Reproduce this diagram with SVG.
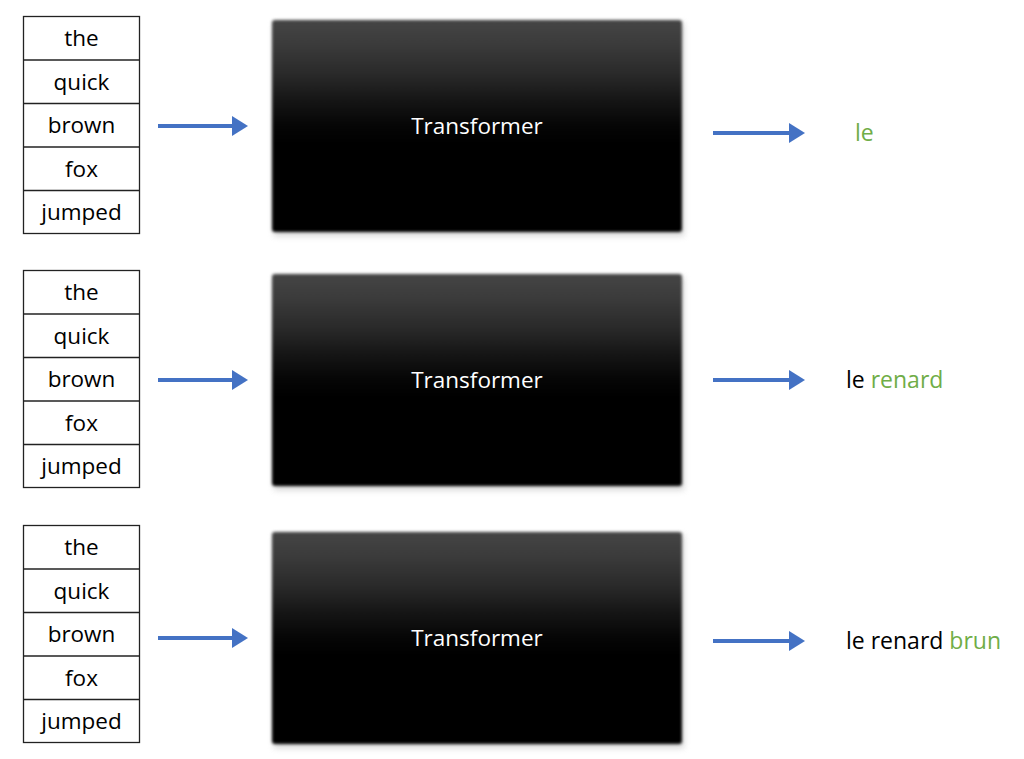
<svg xmlns="http://www.w3.org/2000/svg" width="1024" height="759" viewBox="0 0 1024 759">
<defs>
<linearGradient id="g" x1="0" y1="0" x2="0" y2="1">
<stop offset="0" stop-color="#454545"/>
<stop offset="0.12" stop-color="#3a3a3a"/>
<stop offset="0.25" stop-color="#2a2a2a"/>
<stop offset="0.38" stop-color="#151515"/>
<stop offset="0.5" stop-color="#050505"/>
<stop offset="0.58" stop-color="#000"/>
<stop offset="1" stop-color="#000"/>
</linearGradient>
<filter id="soft" x="-5%" y="-5%" width="110%" height="110%" color-interpolation-filters="sRGB">
<feGaussianBlur in="SourceGraphic" stdDeviation="1.6"/>
</filter>
<filter id="shadow" x="-5%" y="-5%" width="110%" height="110%" color-interpolation-filters="sRGB">
<feGaussianBlur stdDeviation="3"/>
</filter>
<marker id="ah" markerWidth="4" markerHeight="5" refX="0" refY="2.5" orient="auto" markerUnits="strokeWidth">
<path d="M0,0 L4,2.5 L0,5 Z" fill="#4472C4"/>
</marker>
<g id="table">
<rect x="23.5" y="16.5" width="116" height="217" fill="#fff" stroke="#222" stroke-width="1.3"/>
<line x1="23.5" y1="60" x2="139.5" y2="60" stroke="#222" stroke-width="1.3"/>
<line x1="23.5" y1="103.5" x2="139.5" y2="103.5" stroke="#222" stroke-width="1.3"/>
<line x1="23.5" y1="147" x2="139.5" y2="147" stroke="#222" stroke-width="1.3"/>
<line x1="23.5" y1="190.5" x2="139.5" y2="190.5" stroke="#222" stroke-width="1.3"/>
<text class="w" x="81.5" y="46">the</text>
<text class="w" x="81.5" y="89.5">quick</text>
<text class="w" x="81.5" y="133">brown</text>
<text class="w" x="81.5" y="176.5">fox</text>
<text class="w" x="81.5" y="220">jumped</text>
</g>
<g id="tbox">
<rect x="274" y="23" width="410" height="213" fill="#bbb" opacity="0.6" filter="url(#shadow)"/>
<rect x="272" y="20" width="410" height="212" rx="3" fill="url(#g)" filter="url(#soft)"/>
<text class="t" x="477" y="134">Transformer</text>
</g>
</defs>
<style>
.w{font-family:"Open Sans","Noto Sans","Liberation Sans",sans-serif;font-size:22.5px;text-anchor:middle;fill:#000}
.t{font-family:"Open Sans","Noto Sans","Liberation Sans",sans-serif;font-size:22.5px;text-anchor:middle;fill:#fff}
.o{font-family:"Open Sans","Noto Sans","Liberation Sans",sans-serif;font-size:23px;fill:#000}
.gr{fill:#70AD47}
.arr{stroke:#4472C4;stroke-width:4;fill:none;marker-end:url(#ah)}
</style>
<rect width="1024" height="759" fill="#fff"/>
<g id="input1"><use href="#table"/></g>
<g id="input2"><use href="#table" transform="translate(0,254)"/></g>
<g id="input3"><use href="#table" transform="translate(0,509)"/></g>
<g id="transformer1"><use href="#tbox"/></g>
<g id="transformer2"><use href="#tbox" transform="translate(0,254)"/></g>
<g id="transformer3"><use href="#tbox" transform="translate(0,512)"/></g>
<g id="connectors">
<line class="arr" x1="158" y1="126" x2="232" y2="126"/>
<line class="arr" x1="158" y1="380" x2="232" y2="380"/>
<line class="arr" x1="158" y1="638" x2="232" y2="638"/>
<line class="arr" x1="713" y1="133" x2="789" y2="133"/>
<line class="arr" x1="713" y1="380" x2="789" y2="380"/>
<line class="arr" x1="713" y1="641" x2="789" y2="641"/>
</g>
<g id="output1"><text class="o" x="855" y="141"><tspan class="gr">le</tspan></text></g>
<g id="output2"><text class="o" x="846" y="388">le <tspan class="gr">renard</tspan></text></g>
<g id="output3"><text class="o" x="846" y="649">le renard <tspan class="gr">brun</tspan></text></g>
</svg>
